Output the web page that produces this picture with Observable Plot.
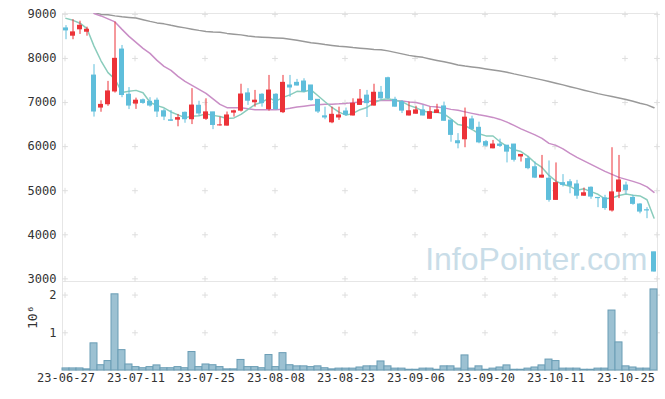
<!DOCTYPE html>
<html>
<head>
<meta charset="utf-8">
<script src="https://cdn.jsdelivr.net/npm/d3@7"></script>
<script src="https://cdn.jsdelivr.net/npm/@observablehq/plot@0.6"></script>
<style>
  html, body { margin: 0; padding: 0; background: #fff; }
  #wrap { position: relative; width: 665px; height: 399px; background: #fff; overflow: hidden; }
  #price, #volume { position: absolute; left: 0; }
  #price { top: 0; z-index: 2; }
  #volume { top: 281px; z-index: 1; }
  svg { overflow: visible; }
</style>
</head>
<body>
<div id="wrap"><div id="price"></div><div id="volume"></div></div>
<script>
// ---- data ----
const dates = [
  "23-06-27","23-06-28","23-06-29","23-06-30","23-07-03","23-07-04","23-07-05","23-07-06","23-07-07","23-07-10",
  "23-07-11","23-07-12","23-07-13","23-07-14","23-07-17","23-07-18","23-07-19","23-07-20","23-07-21","23-07-24",
  "23-07-25","23-07-26","23-07-27","23-07-28","23-07-31","23-08-01","23-08-02","23-08-03","23-08-04","23-08-07",
  "23-08-08","23-08-09","23-08-10","23-08-11","23-08-14","23-08-16","23-08-17","23-08-18","23-08-21","23-08-22",
  "23-08-23","23-08-24","23-08-25","23-08-28","23-08-29","23-08-30","23-08-31","23-09-01","23-09-04","23-09-05",
  "23-09-06","23-09-07","23-09-08","23-09-11","23-09-12","23-09-13","23-09-14","23-09-15","23-09-18","23-09-19",
  "23-09-20","23-09-21","23-09-22","23-09-25","23-09-26","23-09-27","23-10-04","23-10-05","23-10-06","23-10-10",
  "23-10-11","23-10-12","23-10-13","23-10-16","23-10-17","23-10-18","23-10-19","23-10-20","23-10-23","23-10-24",
  "23-10-25","23-10-26","23-10-27","23-10-30","23-10-31"
];
const opens = [
  8685,8505,8650,8595,7615,6875,6950,7240,8205,7180,
  6965,7055,7020,7045,6805,6600,6600,6770,6610,6930,
  6620,6780,6470,6465,6760,6805,7210,6995,7180,6840,
  7180,6770,7390,7450,7480,7390,7065,6690,6540,6650,
  6800,6695,6935,7160,6920,7225,7555,7065,7010,6695,
  6735,6825,6620,6750,6915,6595,6125,6155,6620,6430,
  6105,5950,6050,6025,6050,5765,5720,5535,5285,5275,
  4780,5175,5195,5145,4875,5070,4840,4830,4540,4965,
  5120,4840,4690,4560,3605
];
const highs = [
  8745,8880,8845,8710,7860,7040,7480,8825,8295,7340,
  7100,7080,7110,7100,6850,6820,6730,6785,7315,7030,
  7085,6780,6670,6785,6825,7415,7315,7275,7200,7615,
  7200,7615,7615,7525,7540,7390,7065,6895,6895,6895,
  6875,7085,7295,7275,7415,7365,7575,7120,7045,7010,
  6915,6935,6895,6960,7010,6595,6295,6875,6690,6555,
  6140,6140,6170,6025,6050,5815,5780,5650,5800,5675,
  5630,5365,5250,5235,5060,5085,4840,4895,5975,5800,
  5195,4895,4705,4615,3605
];
const lows = [
  8425,8425,8545,8505,6670,6780,6915,7215,7110,6840,
  6845,6960,6895,6660,6590,6570,6450,6530,6500,6690,
  6595,6385,6465,6465,6670,6785,6935,6895,6895,6805,
  6825,6750,7120,7375,7225,7030,6750,6610,6520,6595,
  6690,6695,6935,6660,6920,7065,7085,6895,6750,6695,
  6735,6695,6620,6750,6575,6100,5950,5975,6370,6065,
  5990,5950,5980,5630,5650,5650,5475,5275,5285,4740,
  4780,5085,4930,4805,4875,4805,4615,4555,4515,4820,
  4915,4670,4475,4365,3155
];
const closes = [
  8625,8595,8745,8655,6785,6950,7255,7995,7160,6920,
  7045,6980,6920,6785,6670,6575,6650,6610,6935,6740,
  6780,6480,6485,6710,6805,7185,7030,7045,6975,7275,
  6840,7450,7330,7375,7240,7045,6785,6650,6725,6710,
  6710,6975,7070,6975,7225,7085,7085,6895,6805,6805,
  6825,6695,6785,6825,6575,6255,6065,6660,6390,6085,
  6010,6050,6005,5875,5690,5815,5500,5285,5345,4780,
  5175,5120,5100,4875,4945,4855,4820,4595,4965,5235,
  5005,4690,4515,4540,3155
];
// volume in millions of shares
const volumes = [
  0.055,0.055,0.055,0.03,0.72,0.14,0.25,2.02,0.54,0.16,
  0.09,0.06,0.09,0.135,0.06,0.06,0.09,0.06,0.49,0.09,
  0.16,0.14,0.09,0.03,0.03,0.28,0.09,0.09,0.06,0.41,
  0.09,0.46,0.14,0.11,0.11,0.09,0.11,0.06,0.03,0.05,
  0.05,0.05,0.08,0.11,0.11,0.24,0.11,0.05,0.05,0.02,
  0.02,0.05,0.05,0.02,0.11,0.11,0.05,0.40,0.05,0.11,
  0.02,0.05,0.08,0.135,0.02,0.02,0.05,0.08,0.135,0.29,
  0.25,0.05,0.05,0.05,0.02,0.02,0.05,0.05,1.59,0.745,
  0.11,0.08,0.05,0.05,2.15
];
// moving averages (5, 20 and long-term); null = not drawn
const ma5 = [
  8910,8865,8800,8675,8280,7947,7679,7528,7229,7257,
  7276,7221,7006,6930,6880,6786,6720,6658,6688,6702,
  6743,6709,6684,6638,6652,6733,6843,6955,7008,7102,
  7033,7117,7174,7254,7247,7288,7155,7018,6888,6782,
  6714,6753,6838,6888,6991,7065,7088,7053,7019,6936,
  6883,6804,6782,6786,6741,6627,6500,6476,6389,6292,
  6243,6240,6110,6007,5927,5888,5778,5633,5527,5346,
  5217,5141,5103,5009,5042,4979,4918,4817,4835,4892,
  4923,4897,4881,4795,4379
];
const ma20 = [
  null,null,null,null,9020,8965,8898,8829,8660,8501,
  8365,8229,8116,7956,7820,7730,7594,7480,7389,7299,
  7208,7083,6959,6883,6883,6883,6861,6838,6838,6838,
  6838,6845,6868,6901,6917,6936,6952,6959,6964,6970,
  6981,6997,7011,7026,7037,7049,7049,7049,7037,7015,
  7003,6959,6913,6901,6879,6845,6823,6788,6754,6721,
  6697,6663,6617,6556,6481,6402,6335,6266,6187,6073,
  6028,5949,5846,5756,5677,5597,5518,5438,5370,5302,
  5257,5211,5160,5087,4962
];
const maLong = [
  null,null,null,null,9040,9000,8989,8966,8947,8932,
  8916,8880,8841,8807,8785,8751,8721,8694,8664,8637,
  8614,8598,8592,8569,8551,8535,8512,8494,8483,8474,
  8465,8456,8437,8414,8387,8358,8338,8315,8296,8278,
  8267,8247,8233,8222,8206,8195,8172,8138,8104,8070,
  8047,8025,7990,7956,7923,7889,7854,7827,7807,7787,
  7763,7739,7718,7689,7650,7616,7582,7548,7514,7476,
  7439,7401,7360,7321,7281,7242,7202,7168,7136,7102,
  7068,7031,6986,6947,6883
];
const xTicks = ["23-06-27","23-07-11","23-07-25","23-08-08","23-08-23","23-09-06","23-09-20","23-10-11","23-10-25"];
const priceTicks = [3000,4000,5000,6000,7000,8000,9000];
const volumeTicks = [1, 2];
const volumeUnit = "10⁶";
const watermark = "InfoPointer.com";

// ---- styles ----
const UP = "#ec3238", DOWN = "#5fbedb";
const FONT = "DejaVu Sans Mono";
const GRID = "#dedede", FRAME = "#e6e6e6";

const rows = dates.map((d, i) => ({
  date: d, open: opens[i], high: highs[i], low: lows[i], close: closes[i],
  vol: volumes[i], ma5: ma5[i], ma20: ma20[i], maLong: maLong[i]
}));
const color = d => d.close >= d.open ? UP : DOWN;

const priceGrid = d3.cross(xTicks, priceTicks).map(([x, y]) => ({x, y}));
const rightGrid = priceTicks.map(y => ({x: dates[dates.length - 1], y}));

const price = Plot.plot({
  width: 665, height: 281,
  marginTop: 13, marginBottom: 0, marginLeft: 62, marginRight: 8,
  style: {fontFamily: FONT, fontSize: "12px", color: "#333", background: "transparent", overflow: "visible"},
  x: {type: "band", domain: dates, padding: 0, axis: null},
  y: {domain: [2940, 9020], ticks: priceTicks, tickSize: 0, tickPadding: 6, label: null, tickFormat: d => String(d)},
  marks: [
    Plot.frame({stroke: FRAME}),
    Plot.dot(priceGrid, {x: "x", y: "y", symbol: "plus", r: 2, stroke: GRID, strokeWidth: 1, dx: -1}),
    Plot.dot(rightGrid, {x: "x", y: "y", symbol: "plus", r: 2, stroke: GRID, strokeWidth: 1, dx: 3}),
    Plot.text([watermark], {text: d => d, frameAnchor: "bottom-right", dx: -10, dy: -22, lineAnchor: "middle",
      textAnchor: "end", fontSize: 32, fill: "#c9dde8", fontFamily: "Liberation Sans"}),
    Plot.line(rows.filter(d => d.maLong != null), {x: "date", y: "maLong", stroke: "#999999", strokeWidth: 1.5, clip: true}),
    Plot.line(rows.filter(d => d.ma20 != null), {x: "date", y: "ma20", stroke: "#c98ec6", strokeWidth: 1.5, clip: true}),
    Plot.line(rows, {x: "date", y: "ma5", stroke: "#8accbc", strokeWidth: 1.5, clip: true}),
    Plot.ruleX(rows, {x: "date", y1: "low", y2: "high", stroke: color, strokeWidth: 1}),
    Plot.rectY(rows, {x: "date", y1: d => Math.min(d.open, d.close), y2: d => Math.max(d.open, d.close) + 8,
      fill: color, insetLeft: 1, insetRight: 1})
  ]
});
document.getElementById("price").appendChild(price);

const volGrid = d3.cross(xTicks, volumeTicks).map(([x, y]) => ({x, y}));
const volRight = volumeTicks.map(y => ({x: dates[dates.length - 1], y}));

const volume = Plot.plot({
  width: 665, height: 118,
  marginTop: 0, marginBottom: 29, marginLeft: 62, marginRight: 8,
  style: {fontFamily: FONT, fontSize: "12px", color: "#333", background: "transparent", overflow: "visible"},
  x: {type: "band", domain: dates, padding: 0, ticks: xTicks, tickSize: 0, tickPadding: 3, label: null},
  y: {domain: [0, 2.36], ticks: volumeTicks, tickFormat: d => String(d), tickSize: 0, tickPadding: 6, label: null},
  marks: [
    Plot.frame({stroke: FRAME}),
    Plot.dot(volGrid, {x: "x", y: "y", symbol: "plus", r: 2, stroke: GRID, strokeWidth: 1, dx: -1}),
    Plot.dot(volRight, {x: "x", y: "y", symbol: "plus", r: 2, stroke: GRID, strokeWidth: 1, dx: 3}),
    Plot.barY(rows, {x: "date", y: "vol", fill: "#9cc1d2", stroke: "#6a9db5", strokeWidth: 1}),
    Plot.text([volumeUnit], {text: d => d, frameAnchor: "left", dx: -30, dy: 3, rotate: -90, fontSize: 13, fill: "#333"})
  ]
});
document.getElementById("volume").appendChild(volume);
</script>
</body>
</html>
